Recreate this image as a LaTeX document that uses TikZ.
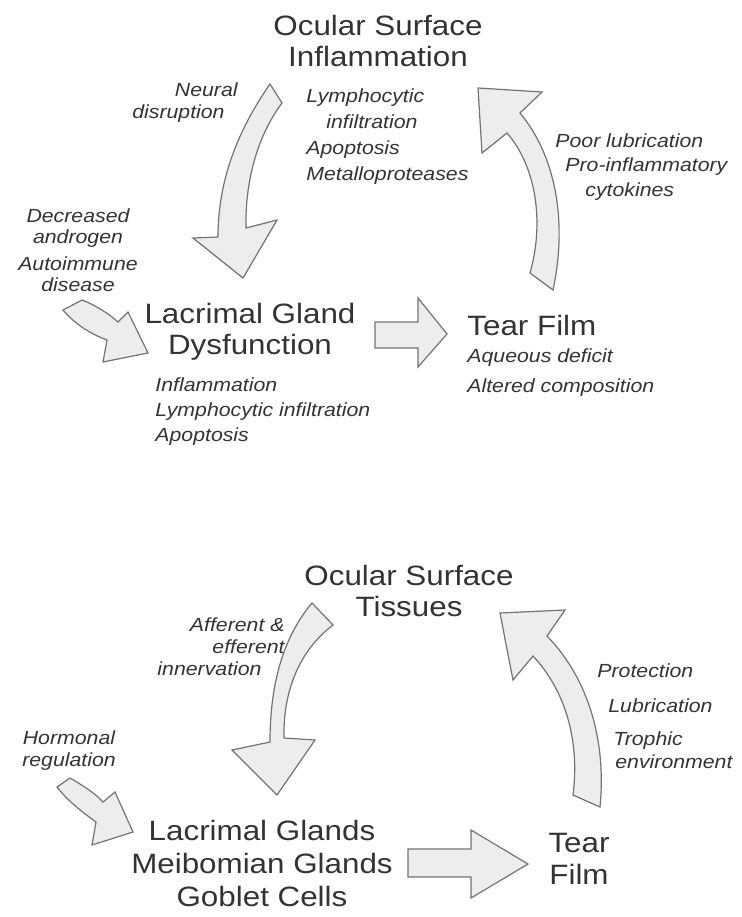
\documentclass[tikz,border=0pt]{standalone}
\usepackage{fontspec}
\setmainfont{Liberation Sans}[FakeStretch=1.12]
\usepackage{tikz}
\usetikzlibrary{positioning}
\newcommand{\headtxt}{\fontsize{14}{15.5}\selectfont}
\newcommand{\notetxt}[1][11]{\fontsize{9.5}{#1}\selectfont\itshape}

\begin{document}
\begin{tikzpicture}[x=0.5pt, y=-0.5pt,
  every node/.style={inner sep=0pt, text=black!80},
  head/.style={font=\headtxt, align=center},
  blockarrow/.style={draw=black!55, fill=black!7, line width=0.6pt}]
\useasboundingbox (0,0) rectangle (741,917);

\node[head, anchor=north] (osi) at (378,15) {Ocular Surface\\Inflammation};
\node[font={\notetxt[13]}, align=left, anchor=north west] (osilist) at (306,88) {Lymphocytic\\\hspace*{10pt}infiltration\\Apoptosis\\Metalloproteases};
\node[font={\notetxt[11]}, align=right, anchor=north east] (neural) at (238,82) {Neural\\disruption\hspace*{6.5pt}};
\node[font={\notetxt[10.5]}, align=center, anchor=north] (andro) at (78,208) {Decreased\\androgen\\[3pt]Autoimmune\\disease};
\node[head, anchor=north] (lgd) at (250,303) {Lacrimal Gland\\Dysfunction};
\node[font={\notetxt[12.5]}, align=left, anchor=north west] (lgdlist) at (155,377) {Inflammation\\Lymphocytic infiltration\\Apoptosis};
\node[head, anchor=north west] (tf) at (467,315) {Tear Film};
\node[font={\notetxt[15]}, align=left, anchor=north west] (tflist) at (467,348) {Aqueous deficit\\Altered composition};
\node[font={\notetxt[12.25]}, align=left, anchor=north west] (lubric) at (555,133) {Poor lubrication\\\hspace*{5pt}Pro-inflammatory\\\hspace*{15pt}cytokines};

\draw[blockarrow] (270,84) .. controls (238,130) and (218,180) .. (218,237) -- (193,238) -- (243,278) -- (277,220) -- (246,228) .. controls (245,180) and (258,135) .. (282,103) -- cycle;
\draw[blockarrow] (530,273) .. controls (545,220) and (535,165) .. (507,133) -- (482,153) -- (478,88) -- (542,92) -- (520,113) .. controls (555,155) and (568,220) .. (553,290) -- cycle;
\draw[blockarrow] (82,300) .. controls (95,305) and (108,313) .. (118,322) -- (128,312) -- (148,353) -- (103,362) -- (107,340) .. controls (88,333) and (73,322) .. (63,310) -- cycle;
\draw[blockarrow] (375,322) -- (418,322) -- (418,298) -- (447,334) -- (418,367) -- (418,348) -- (375,348) -- cycle;

\node[head, anchor=north] (ost) at (409,565) {Ocular Surface\\Tissues};
\node[font={\notetxt[11]}, align=right, anchor=north east] (innerv) at (285,617) {Afferent \&\\efferent\hspace*{6.5pt}\\innervation\hspace*{11.5pt}};
\node[font={\notetxt[11]}, align=center, anchor=north] (hormon) at (69,730) {Hormonal\\regulation};
\node[head, font=\fontsize{14}{16.5}\selectfont, anchor=north] (glands) at (262,820) {Lacrimal Glands\\Meibomian Glands\\Goblet Cells};
\node[head, font=\fontsize{14}{16}\selectfont, anchor=north] (tf2) at (579,833) {Tear\\Film};
\node[font={\notetxt[11.5]}, align=left, anchor=north west] (protec) at (597,663) {Protection\\[6pt]\hspace*{5.5pt}Lubrication\\[5pt]\hspace*{8pt}Trophic\\\hspace*{9pt}environment};

\draw[blockarrow] (312,603) .. controls (285,635) and (270,680) .. (270,742) -- (232,750) -- (277,795) -- (315,740) -- (284,738) .. controls (283,690) and (300,650) .. (333,625) -- cycle;
\draw[blockarrow] (573,795) .. controls (580,740) and (565,690) .. (533,656) -- (513,680) -- (500,613) -- (565,610) -- (547,636) .. controls (585,675) and (607,735) .. (600,807) -- cycle;
\draw[blockarrow] (70,778) .. controls (82,785) and (95,793) .. (103,802) -- (115,792) -- (133,832) -- (92,845) -- (96,822) .. controls (82,812) and (67,800) .. (57,787) -- cycle;
\draw[blockarrow] (408,849) -- (471,849) -- (471,830) -- (528,864) -- (471,898) -- (471,877) -- (408,877) -- cycle;
\end{tikzpicture}
\end{document}
